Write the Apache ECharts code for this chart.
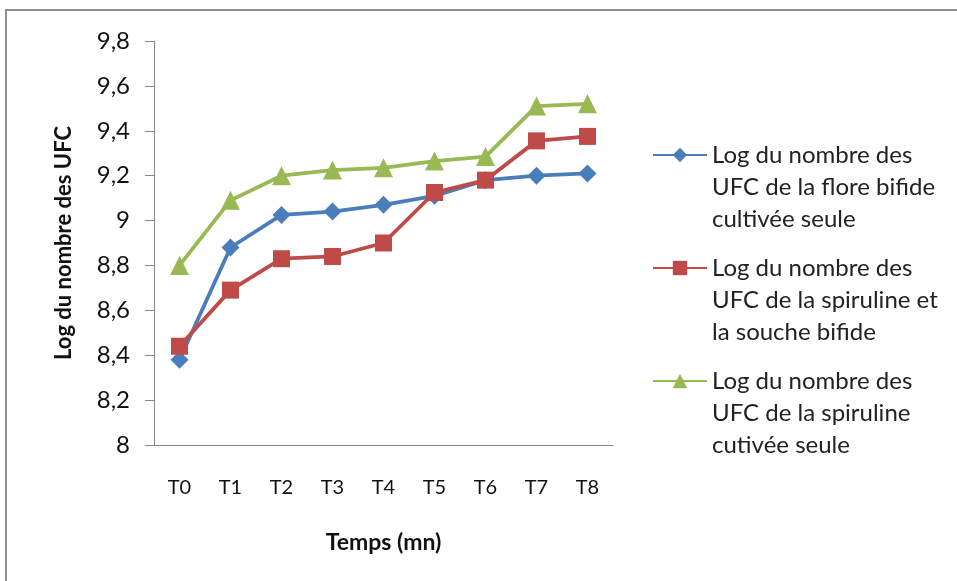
<!DOCTYPE html>
<html><head><meta charset="utf-8">
<script src="https://cdn.jsdelivr.net/npm/echarts@6/dist/echarts.min.js"></script>
<style>html,body{margin:0;padding:0;background:#fff}#c{width:957px;height:581px}</style>
</head><body><div id="c"></div>
<script>
const categories = ['T0','T1','T2','T3','T4','T5','T6','T7','T8'];
const seriesNames = [
  'Log du nombre des\nUFC de la flore bifide\ncultivée seule',
  'Log du nombre des\nUFC de la spiruline et\nla souche bifide',
  'Log du nombre des\nUFC de la spiruline\ncutivée seule'
];
const floreBifide = [8.38, 8.88, 9.025, 9.04, 9.07, 9.11, 9.18, 9.20, 9.21];
const spirulineEtBifide = [8.44, 8.69, 8.83, 8.84, 8.90, 9.125, 9.18, 9.355, 9.375];
const spirulineSeule = [8.80, 9.09, 9.20, 9.225, 9.235, 9.265, 9.285, 9.51, 9.52];
const yMin = 8, yMax = 9.8, yStep = 0.2;

const chart = echarts.init(document.getElementById('c'), null, {renderer:'canvas'});
const font = 'Lato, "Open Sans", sans-serif';
const axisColor = '#868686';
const colors = ['#4a7ebb', '#be4b48', '#98b954'];
const symbols = ['diamond', 'rect', 'triangle'];
const datas = [floreBifide, spirulineEtBifide, spirulineSeule];

chart.setOption({
  animation: false,
  textStyle: {fontFamily: font},
  graphic: [{
    type: 'rect', shape: {x: 6, y: 10, width: 1000, height: 1000},
    style: {fill: 'none', stroke: '#8f8f8f', lineWidth: 2}, silent: true
  }],
  grid: {left: 154, top: 41, right: 344, bottom: 136, containLabel: false},
  legend: {
    orient: 'vertical', left: 652, top: 75, padding: 0,
    itemWidth: 54, itemHeight: 18, itemGap: -47,
    data: seriesNames,
    formatter: n => '\n\n' + n,
    textStyle: {fontFamily: font, fontSize: 24, color: '#222', lineHeight: 32},
  },
  xAxis: {
    type: 'category', data: categories, boundaryGap: true,
    axisLine: {lineStyle: {color: axisColor, width: 1}},
    axisTick: {show: false},
    axisLabel: {color: '#111', fontSize: 20, margin: 33, fontFamily: font},
    name: 'Temps (mn)', nameLocation: 'middle', nameGap: 86,
    nameTextStyle: {fontWeight: 'bold', fontSize: 23, color: '#111', fontFamily: font}
  },
  yAxis: {
    type: 'value', min: yMin, max: yMax, interval: yStep,
    axisLine: {show: true, lineStyle: {color: axisColor, width: 1}},
    axisTick: {show: true, length: 9, lineStyle: {color: axisColor}},
    splitLine: {show: false},
    axisLabel: {color: '#111', fontSize: 24, margin: 24, fontFamily: font,
      formatter: v => (Math.round(v*10)/10).toString().replace('.', ',')},
    name: 'Log du nombre des UFC', nameLocation: 'middle', nameGap: 79, nameRotate: 90,
    nameTextStyle: {fontWeight: 'bold', fontSize: 22, color: '#111', fontFamily: font}
  },
  series: datas.map((d, i) => ({
    name: seriesNames[i], type: 'line', data: d,
    symbol: symbols[i], symbolSize: i === 0 ? 18 : (i === 1 ? 17 : 19),
    lineStyle: {color: colors[i], width: 3.8},
    itemStyle: {color: colors[i]},
    z: i === 1 ? 3 : 2
  }))
});
</script></body></html>
